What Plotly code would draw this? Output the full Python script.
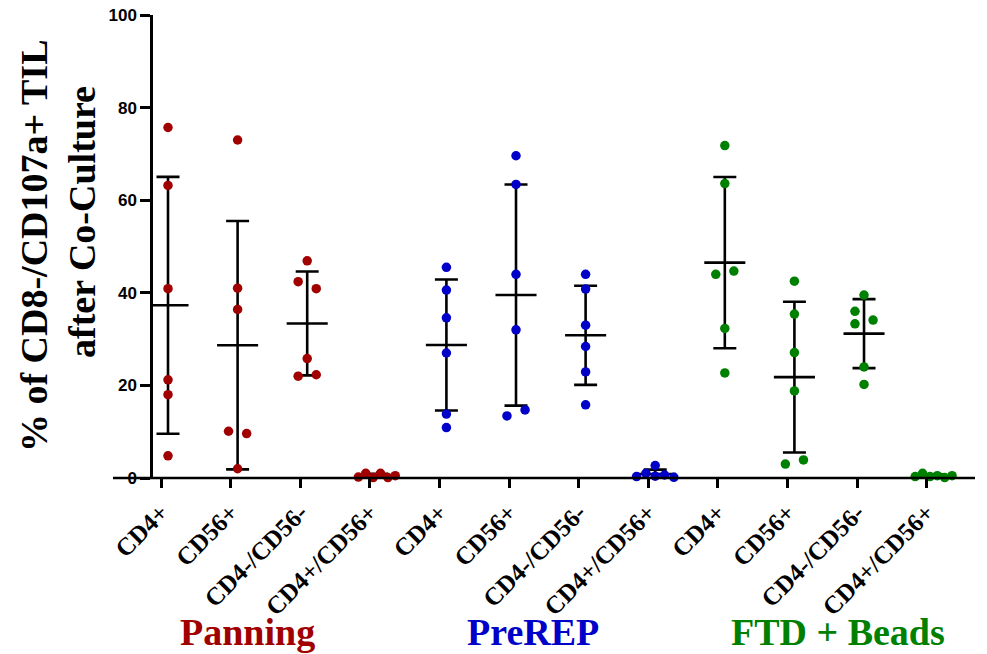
import numpy as np
import plotly.graph_objects as go

# ---------------- data ----------------
categories = ["CD4+", "CD56+", "CD4-/CD56-", "CD4+/CD56+"]
groups = ["Panning", "PreREP", "FTD + Beads"]

panning_cd4 = [75.7, 63.2, 40.9, 21.2, 18.0, 4.8]
panning_cd56 = [73.0, 41.0, 36.4, 10.1, 9.6, 2.0]
panning_dn = [46.9, 42.4, 40.9, 25.8, 22.0, 22.3]
panning_dp = [0.2, 1.0, 0.1, 1.0, 0.1, 0.5]

prerep_cd4 = [45.5, 40.6, 34.6, 27.0, 13.8, 10.9]
prerep_cd56 = [69.6, 63.4, 44.0, 32.0, 13.4, 14.7]
prerep_dn = [44.0, 40.8, 33.0, 28.4, 22.9, 15.8]
prerep_dp = [0.3, 1.0, 2.7, 0.4, 0.65, 0.15]

ftd_cd4 = [71.8, 63.6, 44.0, 44.7, 32.3, 22.7]
ftd_cd56 = [42.5, 35.4, 27.1, 18.8, 3.0, 3.9]
ftd_dn = [39.5, 36.0, 33.3, 34.1, 24.0, 20.2]
ftd_dp = [0.3, 1.0, 0.3, 0.5, 0.1, 0.5]

y_ticks = [0, 20, 40, 60, 80, 100]

# ---------------- styling / positions ----------------
group_colors = ["#a00000", "#0000c8", "#008000"]
J = 0.13
S = 0.106
spread6 = [-2.5 * S, -1.5 * S, -0.5 * S, 0.5 * S, 1.5 * S, 2.5 * S]
jitter = [
    [[0] * 6, [0, 0, 0, -J, J, 0], [0, -J, J, 0, -J, J], spread6],
    [[0] * 6, [0, 0, 0, 0, -J, J], [0] * 6, [-0.268, -0.134, 0, 0, 0.134, 0.268]],
    [[0, 0, -J, J, 0, 0], [0, 0, 0, 0, -J, J], [0, -J, -J, J, 0, 0], spread6],
]
group_label_x = [1.135, 5.24, 9.63]

series = [
    [panning_cd4, panning_cd56, panning_dn, panning_dp],
    [prerep_cd4, prerep_cd56, prerep_dn, prerep_dp],
    [ftd_cd4, ftd_cd56, ftd_dn, ftd_dp],
]

fig = go.Figure()

# mean lines and SD error bars (drawn first, points on top)
for g, grp in enumerate(series):
    for c, vals in enumerate(grp):
        pos = g * 4 + c
        m = float(np.mean(vals))
        sd = float(np.std(vals, ddof=1))
        fig.add_trace(go.Scatter(
            x=[pos - 0.295, pos + 0.295], y=[m, m], mode="lines",
            line=dict(color="black", width=2.6), showlegend=False,
            hoverinfo="skip", cliponaxis=False))
        fig.add_trace(go.Scatter(
            x=[pos], y=[m], mode="markers",
            marker=dict(size=1, color="rgba(0,0,0,0)"),
            error_y=dict(type="data", array=[sd], visible=True,
                         color="black", thickness=2.6, width=11.5),
            showlegend=False, hoverinfo="skip", cliponaxis=False))

for g, grp in enumerate(series):
    for c, vals in enumerate(grp):
        pos = g * 4 + c
        xs = [pos + o for o in jitter[g][c]]
        fig.add_trace(go.Scatter(
            x=xs, y=vals, mode="markers",
            marker=dict(size=9.5, color=group_colors[g], line=dict(width=0)),
            name=f"{groups[g]} {categories[c]}",
            showlegend=False, cliponaxis=False))

n_cat = len(categories) * len(groups)
tickvals = [i - 0.1 for i in range(n_cat)]
ticktext = categories * len(groups)

fig.update_layout(
    width=987, height=654,
    margin=dict(l=153, r=12, t=15, b=176, autoexpand=False),
    plot_bgcolor="white", paper_bgcolor="white",
    showlegend=False,
    xaxis=dict(
        range=[-0.2155, 11.5945], tickmode="array",
        tickvals=tickvals, ticktext=ticktext, tickangle=-45,
        ticks="outside", ticklen=9, tickwidth=2.5, tickcolor="black",
        showline=False, showgrid=False, zeroline=False,
        tickfont=dict(family="Liberation Serif", size=25, color="black",
                      weight="bold"),
    ),
    yaxis=dict(
        range=[0, 100], tickmode="array", tickvals=y_ticks,
        ticks="outside", ticklen=10, tickwidth=2.5, tickcolor="black",
        showline=True, linewidth=2.5, linecolor="black",
        showgrid=False, zeroline=False,
        tickfont=dict(family="Liberation Sans", size=17, color="black",
                      weight="bold"),
    ),
)

# x axis baseline extending left of the y axis (Prism style)
fig.add_shape(type="line", xref="paper", yref="paper",
              x0=-0.0487, x1=1.0, y0=0, y1=0,
              line=dict(color="black", width=2.5))

# y axis title, two lines
fig.add_annotation(text="% of CD8-/CD107a+ TIL", xref="paper", yref="paper",
                   x=-0.1448, y=0.503, textangle=-90, showarrow=False,
                   xanchor="center", yanchor="middle",
                   font=dict(family="Liberation Serif", size=38, color="black",
                             weight="bold"))
fig.add_annotation(text="after Co-Culture", xref="paper", yref="paper",
                   x=-0.0864, y=0.553, textangle=-90, showarrow=False,
                   xanchor="center", yanchor="middle",
                   font=dict(family="Liberation Serif", size=38, color="black",
                             weight="bold"))

# group labels
for g, name in enumerate(groups):
    fig.add_annotation(text=name, xref="x", yref="paper",
                       x=group_label_x[g], y=-0.333, showarrow=False,
                       xanchor="center", yanchor="middle",
                       font=dict(family="Liberation Serif", size=38,
                                 color=group_colors[g], weight="bold"))

# remove the default 8px page margin so the figure sits at the window origin
fig.write_html("out.html",
               config={"displayModeBar": False},
               post_script="document.body.style.margin='0';"
                           "document.body.style.overflow='hidden';")
